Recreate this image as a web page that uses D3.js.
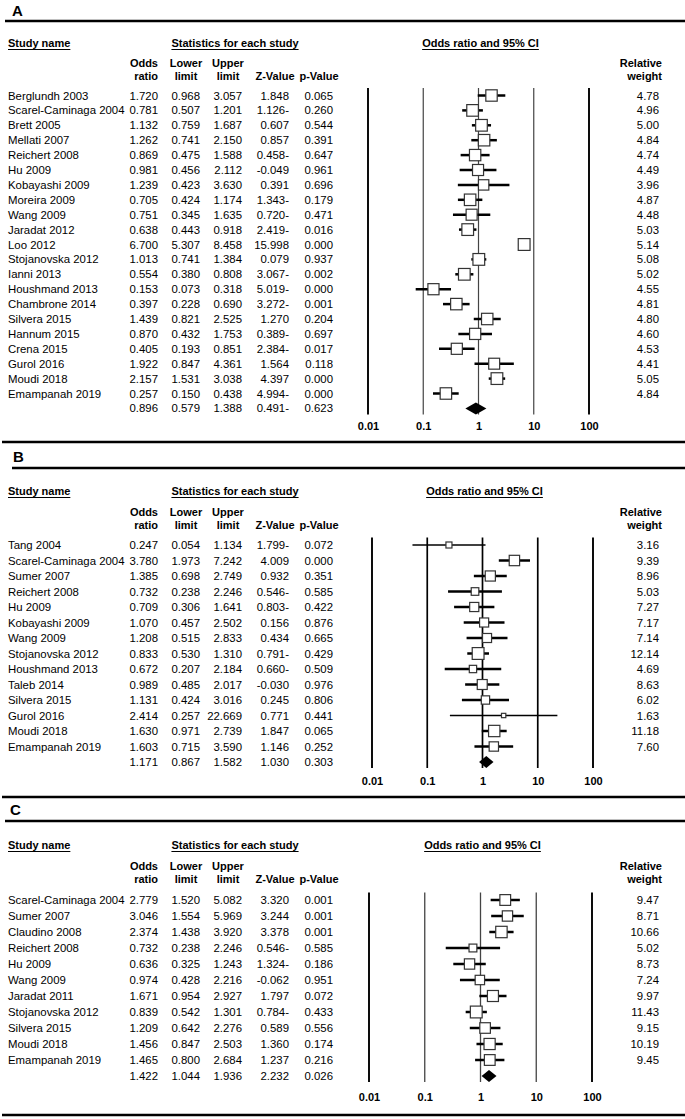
<!DOCTYPE html>
<html><head><meta charset="utf-8">
<script src="https://cdn.jsdelivr.net/npm/d3@7/dist/d3.min.js"></script>
<style>
body{margin:0;background:#fff}
svg{display:block;font-family:"Liberation Sans",Arial,Helvetica,sans-serif}
</style>
</head><body>
<svg id="chart" width="685" height="1119"></svg>
<script>
// ---------------- Panel A data ----------------
const studiesA = ["Berglundh 2003","Scarel-Caminaga 2004","Brett 2005","Mellati 2007","Reichert 2008","Hu 2009","Kobayashi 2009","Moreira 2009","Wang 2009","Jaradat 2012","Loo 2012","Stojanovska 2012","Ianni 2013","Houshmand 2013","Chambrone 2014","Silvera 2015","Hannum 2015","Crena 2015","Gurol 2016","Moudi 2018","Emampanah 2019"];
const orA    = [1.720,0.781,1.132,1.262,0.869,0.981,1.239,0.705,0.751,0.638,6.700,1.013,0.554,0.153,0.397,1.439,0.870,0.405,1.922,2.157,0.257];
const lowerA = [0.968,0.507,0.759,0.741,0.475,0.456,0.423,0.424,0.345,0.443,5.307,0.741,0.380,0.073,0.228,0.821,0.432,0.193,0.847,1.531,0.150];
const upperA = [3.057,1.201,1.687,2.150,1.588,2.112,3.630,1.174,1.635,0.918,8.458,1.384,0.808,0.318,0.690,2.525,1.753,0.851,4.361,3.038,0.438];
const zA     = ["1.848","1.126-","0.607","0.857","0.458-","-0.049","0.391","1.343-","0.720-","2.419-","15.998","0.079","3.067-","5.019-","3.272-","1.270","0.389-","2.384-","1.564","4.397","4.994-"];
const pA     = [0.065,0.260,0.544,0.391,0.647,0.961,0.696,0.179,0.471,0.016,0.000,0.937,0.002,0.000,0.001,0.204,0.697,0.017,0.118,0.000,0.000];
const weightA= [4.78,4.96,5.00,4.84,4.74,4.49,3.96,4.87,4.48,5.03,5.14,5.08,5.02,4.55,4.81,4.80,4.60,4.53,4.41,5.05,4.84];
const summaryA = [0.896,0.579,1.388];
const summaryZA = "0.491-";
const summaryPA = 0.623;

// ---------------- Panel B data ----------------
const studiesB = ["Tang 2004","Scarel-Caminaga 2004","Sumer 2007","Reichert 2008","Hu 2009","Kobayashi 2009","Wang 2009","Stojanovska 2012","Houshmand 2013","Taleb 2014","Silvera 2015","Gurol 2016","Moudi 2018","Emampanah 2019"];
const orB    = [0.247,3.780,1.385,0.732,0.709,1.070,1.208,0.833,0.672,0.989,1.131,2.414,1.630,1.603];
const lowerB = [0.054,1.973,0.698,0.238,0.306,0.457,0.515,0.530,0.207,0.485,0.424,0.257,0.971,0.715];
const upperB = [1.134,7.242,2.749,2.246,1.641,2.502,2.833,1.310,2.184,2.017,3.016,22.669,2.739,3.590];
const zB     = ["1.799-","4.009","0.932","0.546-","0.803-","0.156","0.434","0.791-","0.660-","-0.030","0.245","0.771","1.847","1.146"];
const pB     = [0.072,0.000,0.351,0.585,0.422,0.876,0.665,0.429,0.509,0.976,0.806,0.441,0.065,0.252];
const weightB= [3.16,9.39,8.96,5.03,7.27,7.17,7.14,12.14,4.69,8.63,6.02,1.63,11.18,7.60];
const summaryB = [1.171,0.867,1.582];
const summaryZB = "1.030";
const summaryPB = 0.303;

// ---------------- Panel C data ----------------
const studiesC = ["Scarel-Caminaga 2004","Sumer 2007","Claudino 2008","Reichert 2008","Hu 2009","Wang 2009","Jaradat 2011","Stojanovska 2012","Silvera 2015","Moudi 2018","Emampanah 2019"];
const orC    = [2.779,3.046,2.374,0.732,0.636,0.974,1.671,0.839,1.209,1.456,1.465];
const lowerC = [1.520,1.554,1.438,0.238,0.325,0.428,0.954,0.542,0.642,0.847,0.800];
const upperC = [5.082,5.969,3.920,2.246,1.243,2.216,2.927,1.301,2.276,2.503,2.684];
const zC     = ["3.320","3.244","3.378","0.546-","1.324-","-0.062","1.797","0.784-","0.589","1.360","1.237"];
const pC     = [0.001,0.001,0.001,0.585,0.186,0.951,0.072,0.433,0.556,0.174,0.216];
const weightC= [9.47,8.71,10.66,5.02,8.73,7.24,9.97,11.43,9.15,10.19,9.45];
const summaryC = [1.422,1.044,1.936];
const summaryZC = "2.232";
const summaryPC = 0.026;

// ---------------- shared labels ----------------
const axisTicks = [0.01, 0.1, 1, 10, 100];
const axisTickLabels = ["0.01","0.1","1","10","100"];
const headerTitles = ["Study name","Statistics for each study","Odds ratio and 95% CI"];
const colHeads1 = ["Odds","Lower","Upper","",""];
const colHeads2 = ["ratio","limit","limit","Z-Value","p-Value"];
const weightHead = ["Relative","weight"];

const svg = d3.select("#chart");
const f3 = d3.format(".3f"), f2 = d3.format(".2f");

function drawPanel(p) {
  const g = svg.append("g");
  const n = p.studies.length;
  const x = d3.scaleLog().domain([0.01, 100]).range([p.x0, p.x1]);
  const y = d3.scaleLinear().domain([0, n]).range([p.row0, p.row0 + n * p.step]);
  const side = d3.scaleSqrt().domain([0, d3.max(p.weight)]).range([0, 11.8]);
  const FS = 11.4, BASE = 4;

  // panel letter
  g.append("text").attr("x", p.letterX).attr("y", p.letterY + 5.5)
    .attr("font-size", 15).attr("font-weight", "bold").text(p.letter);
  // top rule
  g.append("line").attr("x1", p.ruleX).attr("x2", 685).attr("y1", p.ruleY).attr("y2", p.ruleY)
    .attr("stroke", "#000").attr("stroke-width", 2.6);

  // underlined header titles
  const hx = [8, 235, (p.x0 + p.x1) / 2 + 2];
  const ha = ["start", "middle", "middle"];
  headerTitles.forEach((t, i) => {
    const tx = g.append("text").attr("x", hx[i]).attr("y", p.headY + BASE)
      .attr("font-size", 11).attr("font-weight", "bold").attr("text-anchor", ha[i]).text(t);
    const w = tx.node().getComputedTextLength();
    const sx = ha[i] === "start" ? hx[i] : hx[i] - w / 2;
    g.append("line").attr("x1", sx).attr("x2", sx + w)
      .attr("y1", p.headY + BASE + 2.5).attr("y2", p.headY + BASE + 2.5)
      .attr("stroke", "#000").attr("stroke-width", 1);
  });

  // column headers
  const colRight = [158, 200, 242, 289, 333];
  const colCenter = [158, 186, 228, 275, 319];
  colHeads1.forEach((t, i) => {
    g.append("text").attr("x", i === 0 ? colRight[0] : colCenter[i]).attr("y", p.h1Y + BASE)
      .attr("text-anchor", i === 0 ? "end" : "middle").attr("font-size", 11).attr("font-weight", "bold").text(t);
  });
  colHeads2.forEach((t, i) => {
    g.append("text").attr("x", i === 0 ? colRight[0] : colCenter[i]).attr("y", p.h2Y + BASE)
      .attr("text-anchor", i === 0 ? "end" : "middle").attr("font-size", 11).attr("font-weight", "bold").text(t);
  });
  [p.h1Y, p.h2Y].forEach((yy, i) => {
    g.append("text").attr("x", 662).attr("y", yy + BASE).attr("text-anchor", "end")
      .attr("font-size", 11).attr("font-weight", "bold").text(weightHead[i]);
  });

  // vertical reference lines
  axisTicks.forEach((t, i) => {
    const outer = (i === 0 || i === axisTicks.length - 1);
    g.append("line").attr("x1", x(t)).attr("x2", x(t))
      .attr("y1", p.row0 - 7.5).attr("y2", y(n) + 6)
      .attr("stroke", outer ? "#000" : p.innerColor)
      .attr("stroke-width", outer ? 1.9 : p.innerWidth);
  });

  // axis labels
  const axis = d3.axisBottom(x).tickValues(axisTicks).tickFormat((d, i) => axisTickLabels[i]).tickSize(0).tickPadding(0);
  const ag = g.append("g").attr("transform", `translate(0,${p.axisY - 4})`).call(axis);
  ag.select(".domain").remove();
  ag.selectAll("text").attr("font-size", 11).attr("font-weight", "bold")
    .attr("font-family", '"Liberation Sans",Arial,sans-serif').attr("fill", "#000").attr("dy", "0.71em");

  // rows
  const cols = [p.or.map(f3), p.lower.map(f3), p.upper.map(f3), p.z, p.p.map(f3)];
  for (let i = 0; i < n; i++) {
    const yy = y(i);
    g.append("text").attr("x", 8).attr("y", yy + BASE).attr("font-size", FS).text(p.studies[i]);
    cols.forEach((c, j) => {
      g.append("text").attr("x", colRight[j]).attr("y", yy + BASE).attr("text-anchor", "end")
        .attr("font-size", FS).text(c[i]);
    });
    g.append("text").attr("x", 659).attr("y", yy + BASE).attr("text-anchor", "end")
      .attr("font-size", FS).text(f2(p.weight[i]));
    // CI line
    const thin = p.weight[i] / d3.max(p.weight) < 0.3;
    g.append("line").attr("x1", x(p.lower[i])).attr("x2", x(p.upper[i]))
      .attr("y1", yy).attr("y2", yy).attr("stroke", "#000").attr("stroke-width", thin ? 1.3 : 2.5);
    const s = side(p.weight[i]);
    g.append("rect").attr("x", x(p.or[i]) - s / 2).attr("y", yy - s / 2).attr("width", s).attr("height", s)
      .attr("fill", "#fff").attr("stroke", "#333").attr("stroke-width", 1.2);
  }
  // summary row
  const sy = y(n);
  const sCols = [f3(p.sum[0]), f3(p.sum[1]), f3(p.sum[2]), p.sumZ, f3(p.sumP)];
  sCols.forEach((c, j) => {
    g.append("text").attr("x", colRight[j]).attr("y", sy + BASE).attr("text-anchor", "end")
      .attr("font-size", FS).text(c);
  });
  const dh = 6;
  g.append("path").attr("d", `M${x(p.sum[1])},${sy} L${x(p.sum[0])},${sy - dh} L${x(p.sum[2])},${sy} L${x(p.sum[0])},${sy + dh} Z`)
    .attr("fill", "#000");

  // bottom rule
  g.append("line").attr("x1", 2).attr("x2", 685).attr("y1", p.bottomY).attr("y2", p.bottomY)
    .attr("stroke", "#000").attr("stroke-width", 2.6);
}

drawPanel({letter: "A", letterX: 12, letterY: 10, ruleX: 5, ruleY: 21, headY: 43, h1Y: 63, h2Y: 76,
  row0: 95.5, step: 14.9, axisY: 426, bottomY: 442, x0: 368, x1: 589, innerColor: "#444", innerWidth: 1.2,
  studies: studiesA, or: orA, lower: lowerA, upper: upperA, z: zA, p: pA, weight: weightA,
  sum: summaryA, sumZ: summaryZA, sumP: summaryPA});
drawPanel({letter: "B", letterX: 13, letterY: 456, ruleX: 12, ruleY: 468, headY: 491, h1Y: 512, h2Y: 524.5,
  row0: 545, step: 15.5, axisY: 781, bottomY: 797, x0: 372, x1: 593, innerColor: "#000", innerWidth: 1.7,
  studies: studiesB, or: orB, lower: lowerB, upper: upperB, z: zB, p: pB, weight: weightB,
  sum: summaryB, sumZ: summaryZB, sumP: summaryPB});
drawPanel({letter: "C", letterX: 10, letterY: 809, ruleX: 5, ruleY: 821, headY: 845, h1Y: 866, h2Y: 879,
  row0: 900, step: 16, axisY: 1097, bottomY: 1115, x0: 369, x1: 592, innerColor: "#444", innerWidth: 1.3,
  studies: studiesC, or: orC, lower: lowerC, upper: upperC, z: zC, p: pC, weight: weightC,
  sum: summaryC, sumZ: summaryZC, sumP: summaryPC});
</script>
</body></html>
